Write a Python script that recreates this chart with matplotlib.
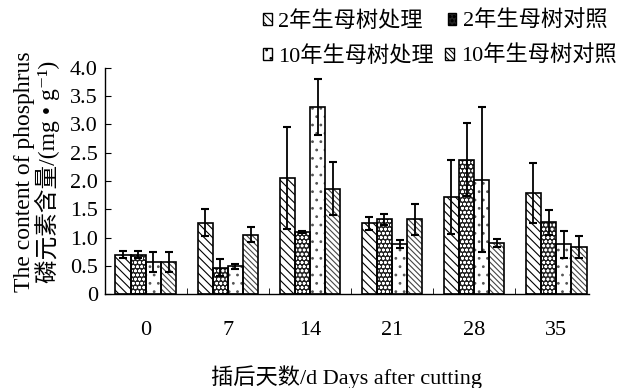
import matplotlib
matplotlib.use("Agg")
import matplotlib.pyplot as plt
import numpy as np
from matplotlib.patches import Patch

plt.rcParams['font.family'] = ['Liberation Serif', 'Noto Sans CJK SC', 'DejaVu Serif']
plt.rcParams['hatch.linewidth'] = 0.8

days = ['0', '7', '14', '21', '28', '35']
series = ['2年生母树处理', '2年生母树对照', '10年生母树处理', '10年生母树对照']
v_2t = [0.70, 1.26, 2.05, 1.25, 1.72, 1.79]
v_2c = [0.70, 0.47, 1.10, 1.32, 2.38, 1.27]
v_10t = [0.57, 0.49, 3.31, 0.88, 2.02, 0.88]
v_10c = [0.57, 1.05, 1.86, 1.32, 0.90, 0.83]
e_2t = [0.07, 0.24, 0.90, 0.11, 0.65, 0.53]
e_2c = [0.07, 0.15, 0.02, 0.09, 0.65, 0.22]
e_10t = [0.18, 0.05, 0.50, 0.07, 1.28, 0.24]
e_10c = [0.18, 0.13, 0.47, 0.27, 0.07, 0.20]

values = [v_2t, v_2c, v_10t, v_10c]
errors = [e_2t, e_2c, e_10t, e_10c]
styles = [
    dict(facecolor='white', hatch='\\\\\\\\', hedge='black'),
    dict(facecolor='#222222', hatch='oooo', hedge='white'),
    dict(facecolor='white', hatch='..', hedge='#555555'),
    dict(facecolor='white', hatch='\\\\\\\\\\\\', hedge='#444444'),
]

fig = plt.figure(figsize=(6.2, 3.88), dpi=100)
ax = fig.add_axes([0.169, 0.242, 0.781, 0.583])

x = np.arange(len(days))
w = 0.185
for i, (vals, errs, st) in enumerate(zip(values, errors, styles)):
    pos = x + (i - 1.5) * w
    ax.bar(pos, vals, w, facecolor=st['facecolor'], hatch=st['hatch'],
           edgecolor=st['hedge'], linewidth=0, zorder=2)
    ax.bar(pos, vals, w, fill=False, edgecolor='black', linewidth=1.2, zorder=3)
    ax.errorbar(pos, vals, yerr=errs, fmt='none', ecolor='black',
                elinewidth=1.3, capsize=3, capthick=1.5, zorder=4)

ax.set_xlim(-0.5, 5.4)
ax.set_ylim(0, 4.0)
ax.set_yticks(np.arange(0, 4.01, 0.5))
ax.set_yticklabels(['0'] + ['%.1f' % v for v in np.arange(0.5, 4.01, 0.5)])
ax.set_xticks(x)
ax.set_xticklabels(days)
ax.set_xticks(np.arange(0.5, 5, 1), minor=True)
ax.tick_params(axis='x', which='major', length=0, pad=19.5, labelsize=16)
ax.tick_params(axis='x', which='minor', direction='in', length=4)
ax.tick_params(axis='y', direction='in', length=4, labelsize=16, pad=5)
ax.spines['top'].set_visible(False)
ax.spines['right'].set_visible(False)
for s in ['left', 'bottom']:
    ax.spines[s].set_linewidth(1.0)

ax.set_xlabel('插后天数/d Days after cutting', fontsize=16, labelpad=18)
ax.set_ylabel('The content of phosphrus\n磷元素含量/(mg • g⁻¹)', fontsize=17,
              linespacing=1.0)
ax.yaxis.set_label_coords(-0.092, 0.54)

def handle(st):
    return Patch(facecolor=st['facecolor'], hatch=st['hatch'], edgecolor='black', linewidth=1)

common = dict(loc='upper left', frameon=False, fontsize=16, handlelength=0.4,
              handleheight=0.4, handletextpad=0.3, borderpad=0, borderaxespad=0, ncol=2)
leg1 = fig.legend([handle(styles[0]), handle(styles[1])], series[:2],
                  bbox_to_anchor=(0.424, 0.972), columnspacing=1.1, **common)
leg2 = fig.legend([handle(styles[2]), handle(styles[3])], series[2:],
                  bbox_to_anchor=(0.424, 0.882), columnspacing=0.5, **common)

fig.savefig('out.png', dpi=100)
